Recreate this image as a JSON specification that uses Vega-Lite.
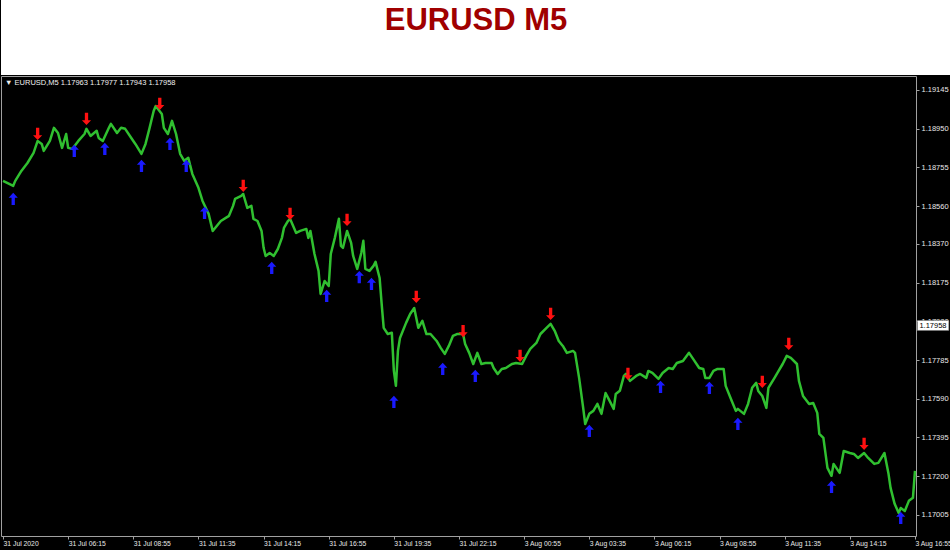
{
  "$schema": "https://vega.github.io/schema/vega-lite/v6.json",
  "background": "black",
  "padding": {"left": 0, "top": 0, "right": 0, "bottom": 3},
  "spacing": 0,
  "config": {"font": "Liberation Sans"},
  "datasets": {
    "bars": [
      {"i":0,"p":1.18687},{"i":2,"p":1.18677},{"i":5,"p":1.18662},{"i":6,"p":1.18687},{"i":9,"p":1.18737},{"i":12,"p":1.18777},{"i":15,"p":1.18828},{"i":17,"p":1.18888},{"i":19,"p":1.18873},{"i":20,"p":1.18838},{"i":23,"p":1.18888},{"i":25,"p":1.18954},{"i":27,"p":1.18928},{"i":29,"p":1.18853},{"i":31,"p":1.18923},{"i":32,"p":1.18853},{"i":34,"p":1.18848},{"i":37,"p":1.18888},{"i":40,"p":1.18923},{"i":41,"p":1.18949},{"i":43,"p":1.18913},{"i":46,"p":1.18939},{"i":47,"p":1.18903},{"i":49,"p":1.18888},{"i":52,"p":1.18954},{"i":53,"p":1.18974},{"i":56,"p":1.18928},{"i":58,"p":1.18954},{"i":60,"p":1.18949},{"i":63,"p":1.18903},{"i":65,"p":1.18873},{"i":68,"p":1.18823},{"i":70,"p":1.18873},{"i":72,"p":1.18954},{"i":74,"p":1.19039},{"i":75,"p":1.19064},{"i":78,"p":1.19024},{"i":79,"p":1.18954},{"i":81,"p":1.18923},{"i":83,"p":1.18989},{"i":85,"p":1.18923},{"i":87,"p":1.18823},{"i":89,"p":1.18788},{"i":91,"p":1.18803},{"i":93,"p":1.18722},{"i":96,"p":1.18652},{"i":98,"p":1.18586},{"i":101,"p":1.18521},{"i":103,"p":1.18435},{"i":105,"p":1.18460},{"i":107,"p":1.18485},{"i":111,"p":1.18511},{"i":113,"p":1.18561},{"i":114,"p":1.18596},{"i":117,"p":1.18611},{"i":118,"p":1.18621},{"i":120,"p":1.18551},{"i":122,"p":1.18561},{"i":123,"p":1.18496},{"i":125,"p":1.18485},{"i":127,"p":1.18435},{"i":128,"p":1.18350},{"i":129,"p":1.18309},{"i":131,"p":1.18324},{"i":133,"p":1.18309},{"i":135,"p":1.18344},{"i":137,"p":1.18400},{"i":138,"p":1.18450},{"i":140,"p":1.18485},{"i":141,"p":1.18496},{"i":144,"p":1.18425},{"i":146,"p":1.18435},{"i":149,"p":1.18445},{"i":150,"p":1.18400},{"i":151,"p":1.18435},{"i":153,"p":1.18319},{"i":155,"p":1.18234},{"i":156,"p":1.18118},{"i":158,"p":1.18183},{"i":160,"p":1.18158},{"i":161,"p":1.18319},{"i":163,"p":1.18400},{"i":165,"p":1.18496},{"i":166,"p":1.18360},{"i":167,"p":1.18350},{"i":169,"p":1.18435},{"i":171,"p":1.18375},{"i":172,"p":1.18309},{"i":174,"p":1.18244},{"i":176,"p":1.18324},{"i":177,"p":1.18385},{"i":178,"p":1.18244},{"i":180,"p":1.18234},{"i":182,"p":1.18259},{"i":183,"p":1.18279},{"i":185,"p":1.18198},{"i":186,"p":1.18068},{"i":187,"p":1.17947},{"i":189,"p":1.17916},{"i":191,"p":1.17922},{"i":192,"p":1.17730},{"i":193,"p":1.17655},{"i":194,"p":1.17831},{"i":195,"p":1.17896},{"i":198,"p":1.17972},{"i":200,"p":1.18017},{"i":202,"p":1.18047},{"i":204,"p":1.17947},{"i":206,"p":1.17982},{"i":208,"p":1.17916},{"i":210,"p":1.17916},{"i":213,"p":1.17881},{"i":215,"p":1.17846},{"i":217,"p":1.17816},{"i":219,"p":1.17856},{"i":221,"p":1.17906},{"i":223,"p":1.17916},{"i":226,"p":1.17916},{"i":227,"p":1.17866},{"i":229,"p":1.17821},{"i":231,"p":1.17765},{"i":233,"p":1.17821},{"i":235,"p":1.17765},{"i":237,"p":1.17770},{"i":240,"p":1.17770},{"i":241,"p":1.17745},{"i":243,"p":1.17715},{"i":245,"p":1.17740},{"i":247,"p":1.17745},{"i":250,"p":1.17765},{"i":252,"p":1.17770},{"i":255,"p":1.17765},{"i":257,"p":1.17806},{"i":259,"p":1.17841},{"i":262,"p":1.17871},{"i":264,"p":1.17916},{"i":267,"p":1.17947},{"i":269,"p":1.17967},{"i":271,"p":1.17932},{"i":273,"p":1.17881},{"i":275,"p":1.17856},{"i":277,"p":1.17821},{"i":280,"p":1.17831},{"i":281,"p":1.17821},{"i":283,"p":1.17695},{"i":285,"p":1.17544},{"i":286,"p":1.17463},{"i":288,"p":1.17514},{"i":290,"p":1.17529},{"i":292,"p":1.17564},{"i":294,"p":1.17514},{"i":296,"p":1.17619},{"i":298,"p":1.17579},{"i":300,"p":1.17539},{"i":301,"p":1.17614},{"i":303,"p":1.17630},{"i":305,"p":1.17705},{"i":306,"p":1.17715},{"i":308,"p":1.17680},{"i":311,"p":1.17705},{"i":313,"p":1.17715},{"i":316,"p":1.17695},{"i":317,"p":1.17730},{"i":319,"p":1.17720},{"i":322,"p":1.17690},{"i":324,"p":1.17720},{"i":327,"p":1.17745},{"i":329,"p":1.17740},{"i":331,"p":1.17770},{"i":334,"p":1.17780},{"i":337,"p":1.17821},{"i":339,"p":1.17791},{"i":342,"p":1.17745},{"i":344,"p":1.17740},{"i":345,"p":1.17695},{"i":347,"p":1.17695},{"i":349,"p":1.17730},{"i":351,"p":1.17740},{"i":354,"p":1.17740},{"i":355,"p":1.17655},{"i":358,"p":1.17579},{"i":360,"p":1.17529},{"i":361,"p":1.17539},{"i":364,"p":1.17514},{"i":366,"p":1.17564},{"i":368,"p":1.17645},{"i":370,"p":1.17670},{"i":371,"p":1.17629},{"i":373,"p":1.17604},{"i":375,"p":1.17544},{"i":376,"p":1.17645},{"i":379,"p":1.17695},{"i":381,"p":1.17730},{"i":383,"p":1.17765},{"i":385,"p":1.17806},{"i":387,"p":1.17796},{"i":390,"p":1.17765},{"i":391,"p":1.17680},{"i":393,"p":1.17604},{"i":396,"p":1.17564},{"i":398,"p":1.17569},{"i":400,"p":1.17519},{"i":401,"p":1.17413},{"i":403,"p":1.17393},{"i":405,"p":1.17242},{"i":407,"p":1.17202},{"i":408,"p":1.17262},{"i":411,"p":1.17217},{"i":413,"p":1.17327},{"i":416,"p":1.17317},{"i":418,"p":1.17312},{"i":420,"p":1.17292},{"i":423,"p":1.17317},{"i":425,"p":1.17292},{"i":428,"p":1.17262},{"i":430,"p":1.17267},{"i":433,"p":1.17317},{"i":435,"p":1.17212},{"i":436,"p":1.17141},{"i":438,"p":1.17061},{"i":440,"p":1.17015},{"i":441,"p":1.17040},{"i":443,"p":1.17025},{"i":445,"p":1.17076},{"i":447,"p":1.17091},{"i":448,"p":1.17227}
    ],
    "sell": [
      {"i":17,"p":1.18923},{"i":41,"p":1.18999},{"i":77,"p":1.19075},{"i":118,"p":1.18662},{"i":141,"p":1.18521},{"i":169,"p":1.18490},{"i":203,"p":1.18103},{"i":226,"p":1.17931},{"i":254,"p":1.17806},{"i":269,"p":1.18017},{"i":307,"p":1.17715},{"i":373,"p":1.17675},{"i":386,"p":1.17866},{"i":423,"p":1.17363}
    ],
    "buy": [
      {"i":5,"p":1.18596},{"i":35,"p":1.18838},{"i":50,"p":1.18848},{"i":68,"p":1.18762},{"i":82,"p":1.18873},{"i":90,"p":1.18762},{"i":99,"p":1.18526},{"i":132,"p":1.18249},{"i":159,"p":1.18108},{"i":175,"p":1.18203},{"i":181,"p":1.18168},{"i":192,"p":1.17574},{"i":216,"p":1.17740},{"i":232,"p":1.17705},{"i":288,"p":1.17428},{"i":323,"p":1.17650},{"i":347,"p":1.17645},{"i":361,"p":1.17463},{"i":407,"p":1.17146},{"i":441,"p":1.16990}
    ],
    "cur": [
      {"i":449.2,"i2":464.6,"p":1.17958,"lo":1.17934,"hi":1.17984,"label":"1.17958"}
    ],
    "hdr": [
      {"i":1.0,"p":1.19178,"label":"▼ EURUSD,M5  1.17963 1.17977 1.17943 1.17958"}
    ]
  },
  "vconcat": [
    {
      "width": 950,
      "height": 75,
      "view": {"fill": "white", "stroke": null},
      "data": {"values": [{"t": "EURUSD M5"}]},
      "mark": {"type": "text", "font": "Liberation Sans", "fontSize": 31, "fontWeight": "bold", "fill": "#a00000", "baseline": "middle", "align": "center", "dy": -17},
      "encoding": {"text": {"field": "t"}}
    },
    {
      "width": 915,
      "height": 460,
      "view": {"stroke": "#a0a0a0", "strokeWidth": 1},
      "encoding": {
        "x": {"field": "i", "type": "quantitative", "scale": {"domain": [-1, 448.5], "nice": false, "zero": false},
          "axis": {"title": null, "values": [0,32,64,96,128,160,192,224,256,288,320,352,384,416,448], "labelExpr": "['31 Jul 2020','31 Jul 06:15','31 Jul 08:55','31 Jul 11:35','31 Jul 14:15','31 Jul 16:55','31 Jul 19:35','31 Jul 22:15','3 Aug 00:55','3 Aug 03:35','3 Aug 06:15','3 Aug 08:55','3 Aug 11:35','3 Aug 14:15','3 Aug 16:55'][round(datum.value/32)]", "labelAlign": "left", "labelFontSize": 6.8, "labelColor": "#e8e8e8", "labelPadding": 1, "tickSize": 3, "tickColor": "#a0a0a0", "domain": false, "grid": false, "labelOverlap": false, "labelFlush": false, "labelBound": false}},
        "y": {"field": "p", "type": "quantitative", "scale": {"domain": [1.16899, 1.19215], "nice": false, "zero": false},
          "axis": {"title": null, "orient": "right", "values": [1.17005,1.172,1.17395,1.1759,1.17785,1.1798,1.18175,1.1837,1.1856,1.18755,1.1895,1.19145], "format": ".5f", "labelFontSize": 7.5, "labelColor": "#e8e8e8", "labelPadding": 2, "tickSize": 3, "tickColor": "#a0a0a0", "domain": false, "grid": false, "labelOverlap": false}}
      },
      "layer": [
        {
          "data": {"name": "bars"},
          "mark": {"type": "line", "color": "#30c030", "strokeWidth": 2.5, "interpolate": "linear", "strokeJoin": "round"}
        },
        {
          "data": {"name": "sell"},
          "mark": {"type": "point", "shape": "M0,1L0.75,0.2L0.27,0.2L0.27,-1L-0.27,-1L-0.27,0.2L-0.75,0.2Z", "size": 150, "filled": true, "fill": "#ff1010", "opacity": 1, "strokeWidth": 0}
        },
        {
          "data": {"name": "buy"},
          "mark": {"type": "point", "shape": "M0,-1L0.75,-0.2L0.27,-0.2L0.27,1L-0.27,1L-0.27,-0.2L-0.75,-0.2Z", "size": 150, "filled": true, "fill": "#1a1aff", "opacity": 1, "strokeWidth": 0}
        },
        {
          "data": {"name": "hdr"},
          "mark": {"type": "text", "fill": "#f0f0f0", "fontSize": 7.5, "align": "left", "baseline": "middle"},
          "encoding": {"text": {"field": "label", "type": "nominal"}}
        },
        {
          "data": {"name": "cur"},
          "mark": {"type": "rect", "fill": "white", "stroke": "#808080", "strokeWidth": 0.5, "clip": false},
          "encoding": {"x": {"field": "i", "type": "quantitative"}, "x2": {"field": "i2"}, "y": {"field": "lo", "type": "quantitative"}, "y2": {"field": "hi"}}
        },
        {
          "data": {"name": "cur"},
          "mark": {"type": "text", "fill": "black", "fontSize": 7.5, "align": "left", "baseline": "middle", "dx": 2, "clip": false},
          "encoding": {"text": {"field": "label", "type": "nominal"}}
        }
      ]
    }
  ]
}
